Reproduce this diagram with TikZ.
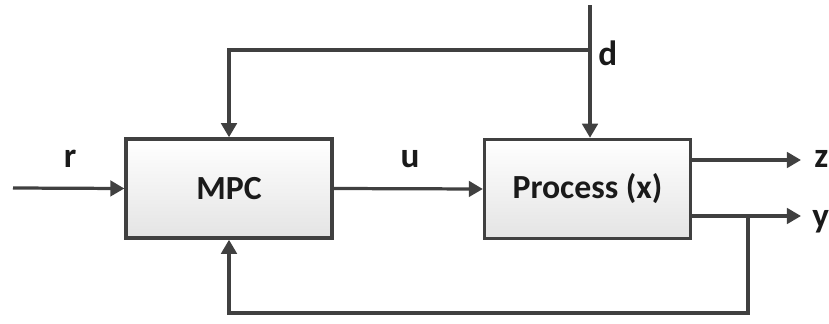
\documentclass[tikz,border=0pt]{standalone}
\usepackage{fontspec}
\setmainfont{Carlito}
\usetikzlibrary{arrows.meta, positioning, calc}
\definecolor{linegray}{HTML}{404040}
\definecolor{boxgray}{HTML}{E4E4E4}
\definecolor{textgray}{HTML}{1A1A1A}

\begin{document}
\begin{tikzpicture}[
  x=0.025cm, y=-0.025cm,
  block/.style={
    draw=linegray, line width=2.3pt, top color=white, bottom color=boxgray,
    minimum width=5.15cm, minimum height=2.48cm,
    font=\fontsize{24}{29}\selectfont\bfseries, text=textgray
  },
  sig/.style={font=\fontsize{25}{30}\selectfont\bfseries, text=textgray, inner sep=0pt},
  wire/.style={draw=linegray, line width=2.3pt},
  arr/.style={wire, -{Triangle[length=10pt, width=11pt]}}
]
  \useasboundingbox (0,0) rectangle (829,323);

  % blocks
  \node[block] (mpc)  at (229,188.5) {MPC};
  \node[block] (proc) at (587.5,189) {Process (x)};

  % signal points
  \coordinate (rin)  at (13,188);
  \coordinate (dtop) at (590,5);
  \coordinate (dtap) at (590,50);
  \coordinate (zout) at (801,160);
  \coordinate (yout) at (801,216);
  \coordinate (ytap) at (748,216);
  \coordinate (fb)   at (748,313);

  % connectors
  \draw[arr] (rin) -- (mpc.west);
  \draw[arr] (mpc.east) -- (proc.west);
  \draw[arr] (dtop) -- (dtop |- proc.north);
  \draw[arr] (dtap) -| (mpc.north);
  \draw[arr] (proc.east |- zout) -- (zout);
  \draw[arr] (proc.east |- yout) -- (yout);
  \draw[arr] (ytap) -- (fb) -| (mpc.south);

  % labels
  \node[sig, anchor=base] (r) at (70,167) {r};
  \node[sig, anchor=base] (u) at (410,167) {u};
  \node[sig, anchor=base west] (d) at (598,65) {d};
  \node[sig, anchor=base west] (z) at (814,167) {z};
  \node[sig, anchor=base west] (y) at (812,227) {y};
\end{tikzpicture}
\end{document}
